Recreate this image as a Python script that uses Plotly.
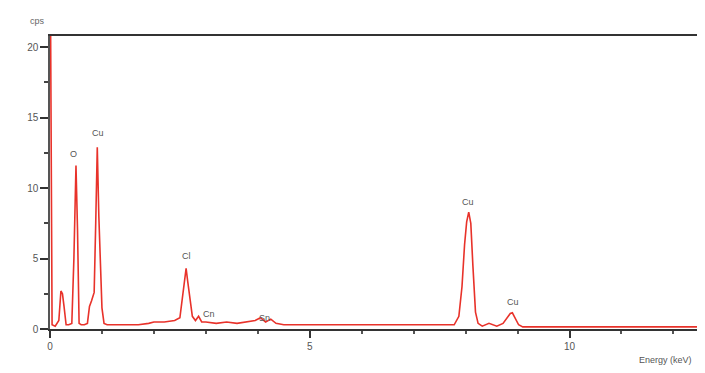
import plotly.graph_objects as go

# Spectrum (energy in keV, counts in cps)
energy = [0.00, 0.04, 0.10, 0.17, 0.21, 0.24, 0.27, 0.31, 0.36, 0.42, 0.46, 0.50, 0.53, 0.56, 0.60,
          0.66, 0.72, 0.76, 0.80, 0.85, 0.88, 0.91, 0.94, 0.97, 1.00, 1.04, 1.10, 1.30, 1.50, 1.70,
          1.90, 2.00, 2.20, 2.40, 2.50, 2.55, 2.59, 2.62, 2.65, 2.69, 2.74, 2.80, 2.86, 2.92, 3.00,
          3.20, 3.40, 3.60, 3.80, 3.95, 4.05, 4.15, 4.25, 4.35, 4.50, 5.00, 5.50, 6.00, 6.50, 7.00,
          7.50, 7.78, 7.87, 7.93, 7.98, 8.02, 8.06, 8.10, 8.14, 8.19, 8.24, 8.32, 8.45, 8.60, 8.72,
          8.80, 8.86, 8.90, 8.95, 9.02, 9.10, 9.50, 10.0, 11.0, 12.0, 12.55]
counts = [30.0, 0.3, 0.2, 0.6, 2.7, 2.5, 1.6, 0.3, 0.3, 0.4, 5.0, 11.6, 7.0, 0.4, 0.3,
          0.3, 0.4, 1.6, 2.0, 2.6, 7.5, 12.9, 8.0, 4.8, 1.5, 0.4, 0.3, 0.3, 0.3, 0.3,
          0.4, 0.5, 0.5, 0.6, 0.8, 2.2, 3.5, 4.3, 3.4, 2.4, 0.9, 0.6, 0.9, 0.5, 0.5,
          0.4, 0.5, 0.4, 0.5, 0.6, 0.8, 0.5, 0.7, 0.4, 0.3, 0.3, 0.3, 0.3, 0.3, 0.3,
          0.3, 0.3, 0.9, 3.0, 6.0, 7.6, 8.3, 7.5, 4.5, 1.2, 0.4, 0.2, 0.4, 0.2, 0.4,
          0.8, 1.1, 1.15, 0.8, 0.3, 0.15, 0.15, 0.15, 0.15, 0.15, 0.15]

peak_labels = ["O", "Cu", "Cl", "Cn", "Sn", "Cu", "Cu"]
peak_energy = [0.45, 0.93, 2.62, 3.07, 4.12, 8.05, 8.92]
peak_height = [12.4, 13.9, 5.2, 1.1, 0.8, 9.0, 1.9]

x_ticks = [0, 5, 10]
y_ticks = [0, 5, 10, 15, 20]

fig = go.Figure()
fig.add_trace(go.Scatter(x=energy, y=counts, mode="lines",
                         line=dict(color="#e8322a", width=1.6), showlegend=False))

for lab, ex, ey in zip(peak_labels, peak_energy, peak_height):
    fig.add_annotation(x=ex, y=ey, text=lab, showarrow=False,
                       font=dict(size=9, color="#555555", family="Liberation Sans"))

fig.add_annotation(x=0, y=1, xref="paper", yref="paper", xshift=-22, yshift=22,
                   text="cps", showarrow=False,
                   font=dict(size=9, color="#666666", family="Liberation Sans"))
fig.add_annotation(x=1, y=0, xref="paper", yref="paper", xanchor="right", yanchor="top",
                   xshift=-8, yshift=-24, text="Energy (keV)", showarrow=False,
                   font=dict(size=9, color="#555555", family="Liberation Sans"))

# page body has an 8px margin, so the figure is sized/offset to compensate
fig.update_layout(
    width=697, height=365,
    margin=dict(l=42, r=1, t=28, b=44),
    plot_bgcolor="white", paper_bgcolor="white",
    font=dict(family="Liberation Sans", size=10, color="#555555"),
)
fig.update_xaxes(range=[0, 12.55], tickvals=x_ticks, ticktext=[str(v) for v in x_ticks],
                 showgrid=False, zeroline=False, showline=True, mirror=True,
                 linecolor="#333333", linewidth=1.5, ticks="outside", ticklen=7,
                 tickcolor="#333333", tickwidth=1.5,
                 minor=dict(dtick=1, ticks="outside", ticklen=3, tickcolor="#555555"))
fig.update_yaxes(range=[0, 20.8], tickvals=y_ticks, ticktext=[str(v) for v in y_ticks],
                 showgrid=False, zeroline=False, showline=True, mirror=True,
                 linecolor="#555555", linewidth=1.5, ticks="outside", ticklen=8,
                 tickcolor="#333333", tickwidth=1.5,
                 minor=dict(dtick=2.5, ticks="outside", ticklen=4, tickcolor="#444444"))

fig.write_html("out.html")
